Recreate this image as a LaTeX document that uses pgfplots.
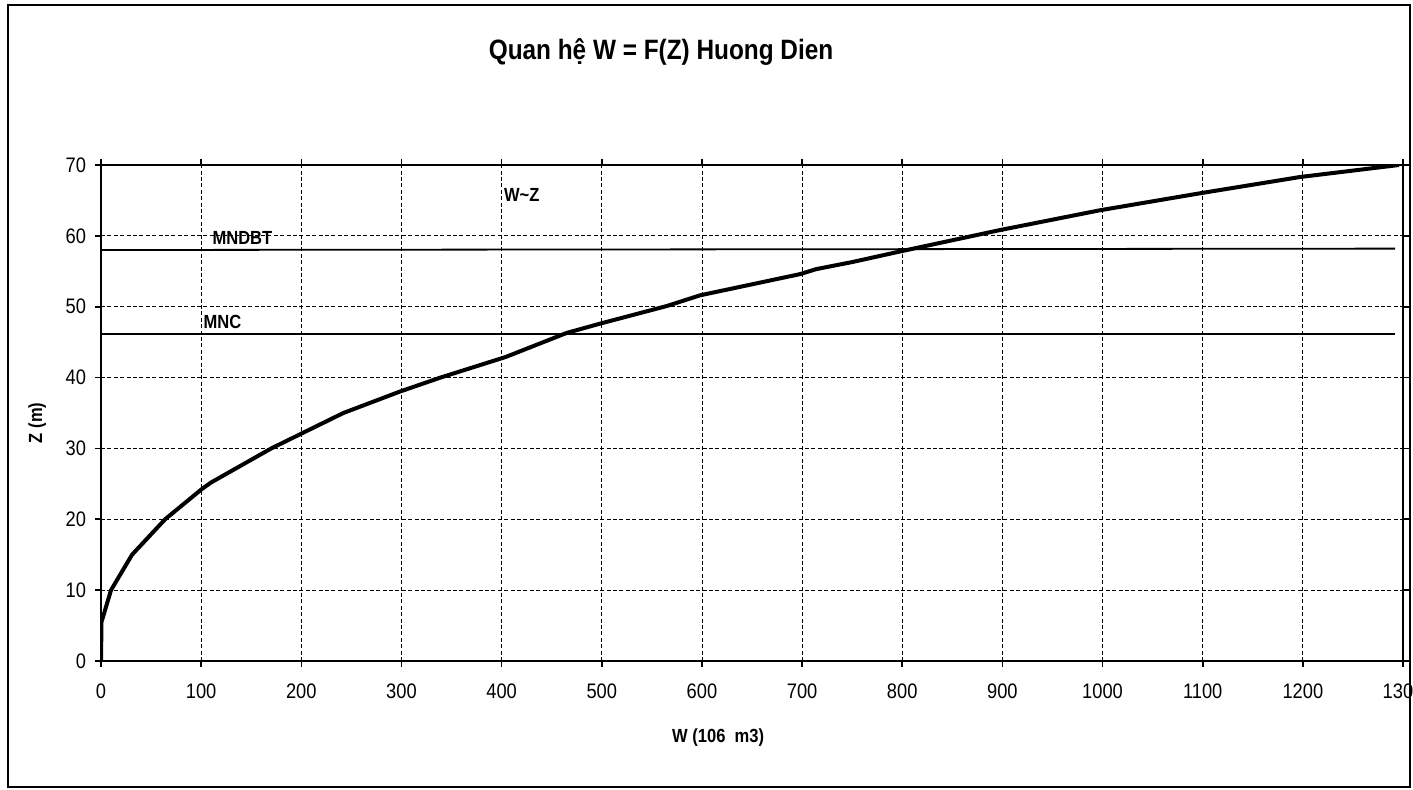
\documentclass[border=0pt]{standalone}
\usepackage{fontspec}
\setmainfont{Liberation Sans}[FakeStretch=0.87]
\usepackage{pgfplots}
\pgfplotsset{compat=1.18}

\begin{document}
\begin{tikzpicture}
\useasboundingbox (-50.5pt,-64.5pt) rectangle (656pt,330.5pt);
\begin{axis}[
    at={(0,0)}, anchor=south west,
    scale only axis,
    width=651pt, height=248pt,
    xmin=0, xmax=1300,
    ymin=0, ymax=70,
    xtick={0,100,...,1300},
    ytick={0,10,...,70},
    tick align=outside,
    major tick length=3pt,
    tick style={black, line width=0.8pt},
    axis line style={line width=1pt},
    grid=major,
    major grid style={black, line width=0.4pt, dash pattern=on 2pt off 1.2pt},
    /pgf/number format/assume math mode=true,
    /pgf/number format/1000 sep={},
    ticklabel style={font=\fontsize{10.5}{12}\selectfont},
    xticklabel style={yshift=-5pt},
    yticklabel style={xshift=-1pt},
    xlabel={W (106\ \ m3)},
    ylabel={Z (m)},
    label style={font=\bfseries\fontsize{9.5}{11}\selectfont},
    xlabel style={at={(axis description cs:0.474,-0.155)}, anchor=center},
    ylabel style={at={(axis description cs:-0.049,0.48)}, anchor=center},
]
% duong quan he W~Z
\addplot[black, line width=2pt] coordinates {
    (0,0)(0.5,5.5)(10,10)(31,15)(64,20)(101,24.3)(110,25.2)(170,30)
    (242,35)(298,38)(339,40)(404,42.9)(465,46.3)(498,47.6)(565,50.1)
    (598,51.6)(698,54.6)(714,55.3)(750,56.3)(798,57.8)(897,60.8)
    (997,63.6)(1097,66)(1197,68.3)(1296,70)
};
% MNDBT
\addplot[black, line width=0.9pt] coordinates {(0,58)(1292,58.2)};
% MNC
\addplot[black, line width=0.9pt] coordinates {(0,46.2)(1292,46.2)};

\node[anchor=west, inner sep=0pt, font=\bfseries\fontsize{9.5}{11}\selectfont] at (axis cs:111,59.7) {MNDBT};
\node[anchor=west, inner sep=0pt, font=\bfseries\fontsize{9.5}{11}\selectfont] at (axis cs:102,47.9) {MNC};
\node[anchor=west, inner sep=0pt, font=\bfseries\fontsize{9.5}{11}\selectfont] at (axis cs:402,65.8) {W\textasciitilde Z};
\end{axis}
\node[font=\bfseries\fontsize{14}{16}\selectfont] at (280pt,304.5pt) {Quan hệ W = F(Z) Huong Dien};
\draw[line width=1pt] (-46.5pt,-63pt) rectangle (654.5pt,328pt);
\end{tikzpicture}
\end{document}
